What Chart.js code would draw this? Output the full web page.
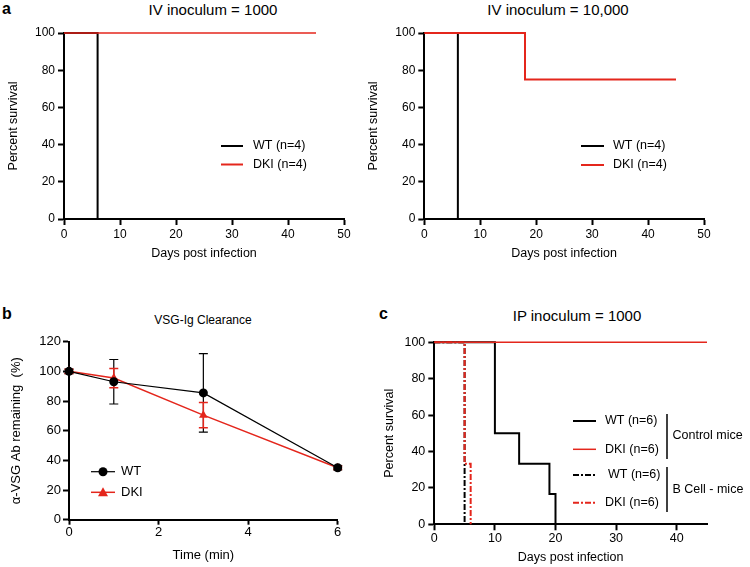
<!DOCTYPE html>
<html>
<head>
<meta charset="utf-8">
<script src="https://cdn.jsdelivr.net/npm/chart.js@4.4.0/dist/chart.umd.min.js"></script>
<style>
    body { margin:0; background:#fff; width:750px; height:567px; position:relative; overflow:hidden;
           font-family: Arial, "Liberation Sans", Helvetica, sans-serif; color:#000; }
    canvas { position:absolute; }
    .lbl { position:absolute; white-space:nowrap; transform:translate(-50%,-50%); }
    .pl { position:absolute; font-weight:bold; font-size:16px; line-height:1; }
</style>
</head>
<body>
<div class="pl" style="left:2px;top:1px">a</div>
<div class="lbl" style="left:213px;top:9px;font-size:15px">IV inoculum = 1000</div>
<div class="lbl" style="left:558px;top:9px;font-size:15px">IV inoculum = 10,000</div>
<div class="pl" style="left:2px;top:306px">b</div>
<div class="lbl" style="left:203px;top:320px;font-size:12px">VSG-Ig Clearance</div>
<div class="pl" style="left:379px;top:306px">c</div>
<div class="lbl" style="left:577px;top:315px;font-size:15px">IP inoculum = 1000</div>

<canvas id="chartA1"></canvas>
<canvas id="chartA2"></canvas>
<canvas id="chartB"></canvas>
<canvas id="chartC"></canvas>

<script>
// ---- data -------------------------------------------------------------
// a, IV inoculum = 1000 (Kaplan-Meier steps: day, % survival)
const a1WtDays = [0, 6];
const a1WtSurv = [100, 0];
const a1DkiDays = [0, 45];
const a1DkiSurv = [100, 100];

// a, IV inoculum = 10,000
const a2WtDays = [0, 6];
const a2WtSurv = [100, 0];
const a2DkiDays = [0, 18, 45];
const a2DkiSurv = [100, 75, 75];

// b, VSG-Ig clearance (mean +/- error)
const bTimes = [0, 1, 3, 6];
const bWt = [100, 93, 85.5, 35];
const bWtErr = [1.5, 15, 26.5, 1.5];
const bDki = [100, 95.5, 70.5, 35];
const bDkiErr = [1.5, 6.5, 8.5, 1];

// c, IP inoculum = 1000
const cWtDays = [0, 10, 14, 19, 20];
const cWtSurv = [100, 50, 33.3, 16.7, 0];
const cDkiDays = [0, 45];
const cDkiSurv = [100, 100];
const cWtBDays = [0, 5];
const cWtBSurv = [100, 0];
const cDkiBDays = [0, 5, 6];
const cDkiBSurv = [100, 33.3, 0];

// tick labels
const aXTicks = [0, 10, 20, 30, 40, 50];
const aYTicks = [0, 20, 40, 60, 80, 100];
const bXTicks = [0, 2, 4, 6];
const bYTicks = [0, 20, 40, 60, 80, 100, 120];
const cXTicks = [0, 10, 20, 30, 40];
const cYTicks = [0, 20, 40, 60, 80, 100];

// ---- helpers ----------------------------------------------------------
const RED = '#e4261c';
const FONT = 'Arial, "Liberation Sans", Helvetica, sans-serif';
const DASHDOT = [6, 2, 2, 2];

const zip = (xs, ys) => xs.map((x, i) => ({ x, y: ys[i] }));

function axisOpts(o) {
    const lh = o.titleSize * 1.2;
    return {
        type: 'linear', min: o.min, max: o.max,
        afterBuildTicks: s => { s.ticks = o.ticks.map(v => ({ value: v })); },
        afterFit: s => { if (s.isHorizontal()) s.height = o.size; else s.width = o.size; },
        border: { display: true, color: '#000', width: 2 },
        grid: { drawOnChartArea: false, drawTicks: true, tickLength: o.tickLen || 6, tickWidth: 2, tickColor: '#000' },
        ticks: { color: '#000', padding: o.tickPad, autoSkip: false, maxRotation: 0,
                 font: { family: FONT, size: o.tickSize, weight: 'normal' } },
        title: {
            display: true, text: o.title, color: '#000',
            font: { family: FONT, size: o.titleSize, weight: 'normal' },
            padding: o.horiz ? { top: 0, bottom: o.titleEdge - lh / 2 } : { top: o.titleEdge - lh / 2, bottom: 0 },
        },
    };
}

// legend + error bars drawn straight onto the chart canvas
const extrasPlugin = {
    id: 'extras',
    beforeDatasetsDraw(chart, args, opts) {
        const ctx = chart.ctx;
        (opts.errbars || []).forEach(eb => {
            const meta = chart.getDatasetMeta(eb.dataset);
            const ds = chart.data.datasets[eb.dataset];
            const ys = chart.scales.y;
            ctx.save();
            ctx.strokeStyle = eb.color;
            ctx.lineWidth = eb.width;
            meta.data.forEach((pt, i) => {
                const v = ds.data[i].y;
                const top = ys.getPixelForValue(v + eb.err[i]);
                const bot = ys.getPixelForValue(v - eb.err[i]);
                ctx.beginPath();
                ctx.moveTo(pt.x, top); ctx.lineTo(pt.x, bot);
                ctx.moveTo(pt.x - 4.5, top); ctx.lineTo(pt.x + 4.5, top);
                ctx.moveTo(pt.x - 4.5, bot); ctx.lineTo(pt.x + 4.5, bot);
                ctx.stroke();
            });
            ctx.restore();
        });
    },
    afterDraw(chart, args, opts) {
        const ctx = chart.ctx;
        const ox = opts.ox || 0, oy = opts.oy || 0;
        ctx.save();
        ctx.textBaseline = 'middle';
        ctx.fillStyle = '#000';
        ctx.font = (opts.fontSize || 12) + 'px ' + FONT;
        (opts.items || []).forEach(it => {
            ctx.save();
            ctx.strokeStyle = it.color;
            ctx.lineWidth = it.width;
            ctx.setLineDash(it.dash || []);
            ctx.beginPath();
            ctx.moveTo(it.x1 - ox, it.y - oy);
            ctx.lineTo(it.x2 - ox, it.y - oy);
            ctx.stroke();
            ctx.restore();
            if (it.marker) {
                const mx = (it.x1 + it.x2) / 2 - ox, my = it.y - oy;
                ctx.save();
                ctx.fillStyle = it.color;
                ctx.beginPath();
                if (it.marker === 'circle') ctx.arc(mx, my, 4.5, 0, Math.PI * 2);
                else { ctx.moveTo(mx, my - 5); ctx.lineTo(mx + 5, my + 4); ctx.lineTo(mx - 5, my + 4); ctx.closePath(); }
                ctx.fill();
                ctx.restore();
            }
            ctx.fillText(it.text, it.tx - ox, it.y - oy);
        });
        (opts.bars || []).forEach(b => {
            ctx.save();
            ctx.strokeStyle = '#000';
            ctx.lineWidth = 1.5;
            ctx.beginPath();
            ctx.moveTo(b.x - ox, b.y1 - oy);
            ctx.lineTo(b.x - ox, b.y2 - oy);
            ctx.stroke();
            ctx.restore();
        });
        (opts.notes || []).forEach(n => ctx.fillText(n.text, n.x - ox, n.y - oy));
        ctx.restore();
    },
};

// box = canvas position on the page, area = wanted plot area on the page
function makeChart(id, box, area, datasets, xAxis, yAxis, extras) {
    const cv = document.getElementById(id);
    cv.width = box.w; cv.height = box.h;
    cv.style.left = box.x + 'px'; cv.style.top = box.y + 'px';
    xAxis.size = box.y + box.h - area.b;
    xAxis.titleEdge = box.y + box.h - xAxis.titleAt;
    xAxis.horiz = true;
    yAxis.size = area.l - box.x;
    yAxis.titleEdge = yAxis.titleAt - box.x;
    extras.ox = box.x; extras.oy = box.y;
    return new Chart(cv, {
        type: 'line',
        data: { datasets },
        options: {
            responsive: false,
            animation: false,
            layout: { padding: { top: area.t - box.y, right: box.x + box.w - area.r, left: 0, bottom: 0 } },
            plugins: { legend: { display: false }, tooltip: { enabled: false }, extras },
            scales: { x: axisOpts(xAxis), y: axisOpts(yAxis) },
        },
        plugins: [extrasPlugin],
    });
}

function kmLine(days, surv, color, width, dash) {
    return {
        data: zip(days, surv), borderColor: color, borderWidth: width, borderDash: dash || [],
        stepped: true, pointRadius: 0, fill: false, clip: 6,
    };
}

// ---- panel a (left) ---------------------------------------------------
makeChart('chartA1',
    { x: 0, y: 20, w: 365, h: 250 }, { l: 64, t: 33, r: 344, b: 219 },
    [kmLine(a1DkiDays, a1DkiSurv, RED, 1.5), kmLine(a1WtDays, a1WtSurv, '#000', 2)],
    { min: 0, max: 50, ticks: aXTicks, tickSize: 12, tickPad: 2, title: 'Days post infection', titleSize: 12.5, titleAt: 254 },
    { min: 0, max: 100, ticks: aYTicks, tickSize: 12, tickPad: 3, title: 'Percent survival', titleSize: 12.5, titleAt: 14 },
    {
        fontSize: 12.5,
        items: [
            { x1: 221, x2: 243, y: 146, color: '#000', width: 2, text: 'WT (n=4)', tx: 253 },
            { x1: 221, x2: 243, y: 164.5, color: RED, width: 2, text: 'DKI (n=4)', tx: 253 },
        ],
    });

// ---- panel a (right) --------------------------------------------------
makeChart('chartA2',
    { x: 360, y: 20, w: 390, h: 250 }, { l: 424.3, t: 33, r: 704, b: 219 },
    [kmLine(a2DkiDays, a2DkiSurv, RED, 2), kmLine(a2WtDays, a2WtSurv, '#000', 2)],
    { min: 0, max: 50, ticks: aXTicks, tickSize: 12, tickPad: 2, title: 'Days post infection', titleSize: 12.5, titleAt: 254 },
    { min: 0, max: 100, ticks: aYTicks, tickSize: 12, tickPad: 3, title: 'Percent survival', titleSize: 12.5, titleAt: 373.5 },
    {
        fontSize: 12.5,
        items: [
            { x1: 581, x2: 604, y: 146, color: '#000', width: 2, text: 'WT (n=4)', tx: 613 },
            { x1: 581, x2: 604, y: 165, color: RED, width: 2, text: 'DKI (n=4)', tx: 613 },
        ],
    });

// ---- panel b ----------------------------------------------------------
makeChart('chartB',
    { x: 0, y: 290, w: 370, h: 277 }, { l: 69, t: 341.7, r: 337.7, b: 519.7 },
    [
        { data: zip(bTimes, bWt), borderColor: '#000', borderWidth: 1.2, pointStyle: 'circle', pointRadius: 4.5,
          pointBackgroundColor: '#000', pointBorderWidth: 0, clip: 8 },
        { data: zip(bTimes, bDki), borderColor: RED, borderWidth: 1.5, pointStyle: 'triangle', pointRadius: 5,
          pointBackgroundColor: RED, pointBorderWidth: 0, clip: 8 },
    ],
    { min: 0, max: 6, ticks: bXTicks, tickSize: 13, tickPad: 0, tickLen: 5, title: 'Time (min)', titleSize: 13, titleAt: 555 },
    { min: 0, max: 120, ticks: bYTicks, tickSize: 13, tickPad: 2, tickLen: 6, title: 'α-VSG Ab remaining  (%)', titleSize: 13, titleAt: 16 },
    {
        fontSize: 13,
        errbars: [
            { dataset: 0, err: bWtErr, color: '#000', width: 1.2 },
            { dataset: 1, err: bDkiErr, color: RED, width: 1.5 },
        ],
        items: [
            { x1: 91, x2: 115, y: 471.7, color: '#000', width: 1.2, marker: 'circle', text: 'WT', tx: 121 },
            { x1: 91, x2: 115, y: 492.3, color: RED, width: 1.5, marker: 'triangle', text: 'DKI', tx: 121 },
        ],
    });

// ---- panel c ----------------------------------------------------------
makeChart('chartC',
    { x: 375, y: 290, w: 375, h: 277 }, { l: 434.3, t: 342.3, r: 707, b: 524.3 },
    [
        kmLine(cDkiDays, cDkiSurv, RED, 1.5),
        kmLine(cDkiBDays, cDkiBSurv, RED, 2, DASHDOT),
        kmLine(cWtBDays, cWtBSurv, '#000', 2, DASHDOT),
        kmLine(cWtDays, cWtSurv, '#000', 2),
    ],
    { min: 0, max: 45, ticks: cXTicks, tickSize: 12.5, tickPad: 1, title: 'Days post infection', titleSize: 12.5, titleAt: 558 },
    { min: 0, max: 100, ticks: cYTicks, tickSize: 12.5, tickPad: 3, title: 'Percent survival', titleSize: 12.5, titleAt: 390 },
    {
        fontSize: 12.5,
        items: [
            { x1: 573, x2: 596, y: 421, color: '#000', width: 2, text: 'WT (n=6)', tx: 605 },
            { x1: 573, x2: 596, y: 449.3, color: RED, width: 1.5, text: 'DKI (n=6)', tx: 605 },
            { x1: 573, x2: 596, y: 475, color: '#000', width: 2, dash: DASHDOT, text: 'WT (n=6)', tx: 608 },
            { x1: 573, x2: 596, y: 502.7, color: RED, width: 2, dash: DASHDOT, text: 'DKI (n=6)', tx: 605 },
        ],
        bars: [
            { x: 667, y1: 414, y2: 459 },
            { x: 667, y1: 467, y2: 512 },
        ],
        notes: [
            { text: 'Control mice', x: 672.5, y: 436 },
            { text: 'B Cell - mice', x: 672.5, y: 489.5 },
        ],
    });
</script>
</body>
</html>
